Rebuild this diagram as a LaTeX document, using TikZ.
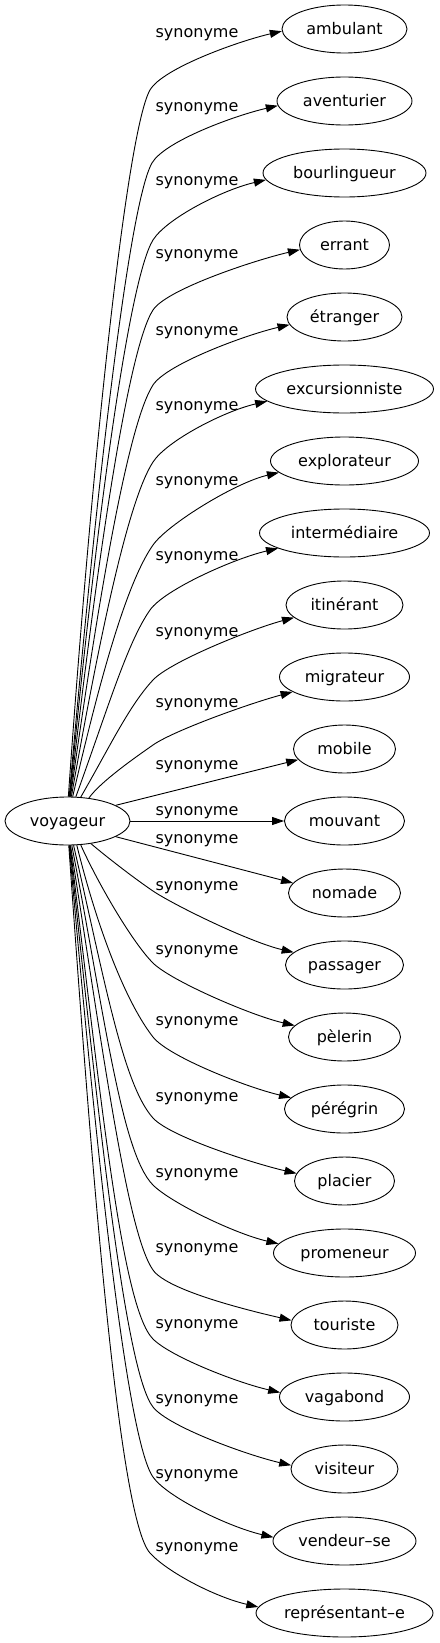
\documentclass[tikz,border=0pt]{standalone}
\usepackage{fontspec}
\setmainfont{DejaVu Sans}
\usetikzlibrary{arrows.meta,calc,shapes.geometric}
% #1 start anchor, #2 start direction, #3 start pull, #4 knee point, #5 direction at knee,
% #6 pull into knee, #7 target node, #8 target anchor, #9 back direction at target
\newcommand\synedge[9]{%
  \draw[edge] (voyageur.#1) .. controls ($(voyageur.#1)+(#2:#3)$) and ($#4+(#5+180:#6)$) .. #4
    .. controls ($#4+(#5:25)$) and ($(#7.#8)+(#9:45)$) .. (#7.#8);}
\begin{document}
\begin{tikzpicture}[x=1pt,y=-1pt,
  term/.style={draw, ellipse, inner sep=0pt, minimum height=48pt, minimum width=#1,
    text height=11.5pt, text depth=0.5pt, font=\fontsize{16pt}{19pt}\selectfont, line width=0.9pt},
  lbl/.style={inner sep=0pt, font=\fontsize{16pt}{19pt}\selectfont},
  edge/.style={line width=0.9pt, -{Triangle[length=12pt,width=8pt]}}
]
\useasboundingbox (0,0) rectangle (439,1643);
\node[term=125pt] (voyageur) at (67.5,821) {voyageur};
\node[term=125pt] (ambulant) at (344.5,29) {ambulant};
\node[term=135pt] (aventurier) at (344.5,101) {aventurier};
\node[term=163pt] (bourlingueur) at (344.5,173) {bourlingueur};
\node[term=90pt] (errant) at (344.5,245) {errant};
\node[term=115pt] (etranger) at (344.5,317) {étranger};
\node[term=178pt] (excursionniste) at (344.5,389) {excursionniste};
\node[term=148pt] (explorateur) at (344.5,461) {explorateur};
\node[term=170pt] (intermediaire) at (344.5,533) {intermédiaire};
\node[term=117pt] (itinerant) at (344.5,605) {itinérant};
\node[term=130pt] (migrateur) at (344.5,677) {migrateur};
\node[term=102pt] (mobile) at (344.5,749) {mobile};
\node[term=120pt] (mouvant) at (344.5,821) {mouvant};
\node[term=112pt] (nomade) at (344.5,893) {nomade};
\node[term=118pt] (passager) at (344.5,965) {passager};
\node[term=112pt] (pelerin) at (344.5,1037) {pèlerin};
\node[term=120pt] (peregrin) at (344.5,1109) {pérégrin};
\node[term=100pt] (placier) at (344.5,1181) {placier};
\node[term=142pt] (promeneur) at (344.5,1253) {promeneur};
\node[term=107pt] (touriste) at (344.5,1325) {touriste};
\node[term=130pt] (vagabond) at (344.5,1397) {vagabond};
\node[term=107pt] (visiteur) at (344.5,1469) {visiteur};
\node[term=143pt] (vendeur) at (344.5,1541) {vendeur–se};
\node[term=177pt] (representant) at (344.5,1613) {représentant–e};
% labels
\node[lbl] (l0) at (197,35) {synonyme};
\node[lbl] (l1) at (197,109) {synonyme};
\node[lbl] (l2) at (197,183) {synonyme};
\node[lbl] (l3) at (197,256) {synonyme};
\node[lbl] (l4) at (197,333) {synonyme};
\node[lbl] (l5) at (197,408) {synonyme};
\node[lbl] (l6) at (197,483) {synonyme};
\node[lbl] (l7) at (197,558) {synonyme};
\node[lbl] (l8) at (197,634) {synonyme};
\node[lbl] (l9) at (197,705) {synonyme};
\node[lbl] (l10) at (197,767) {synonyme};
\node[lbl] (l11) at (197,813) {synonyme};
\node[lbl] (l12) at (197,841) {synonyme};
\node[lbl] (l13) at (197,888) {synonyme};
\node[lbl] (l14) at (197,952) {synonyme};
\node[lbl] (l15) at (197,1023) {synonyme};
\node[lbl] (l16) at (197,1099) {synonyme};
\node[lbl] (l17) at (197,1175) {synonyme};
\node[lbl] (l18) at (197,1250) {synonyme};
\node[lbl] (l19) at (197,1326) {synonyme};
\node[lbl] (l20) at (197,1401) {synonyme};
\node[lbl] (l21) at (197,1476) {synonyme};
\node[lbl] (l22) at (197,1549) {synonyme};
% upper edges
\synedge{88}{-86}{353}{(150,90)}{-60}{45}{ambulant}{182}{167}
\synedge{86}{-85}{317}{(152,163)}{-60}{45}{aventurier}{184}{167}
\synedge{85}{-84.5}{278}{(153,240)}{-58}{45}{bourlingueur}{185}{167}
\synedge{84}{-83.5}{243}{(153,310)}{-57}{45}{errant}{186}{167}
\synedge{83}{-82}{206}{(153,385)}{-57}{45}{etranger}{188}{167}
\synedge{81}{-80}{167}{(153,462)}{-57}{45}{excursionniste}{189}{167}
\synedge{78}{-77}{126}{(153,545)}{-55}{45}{explorateur}{190}{167}
\synedge{71}{-70}{93}{(150,610)}{-55}{40}{intermediaire}{193}{167}
\synedge{61}{-60}{58}{(153,680)}{-47}{35}{itinerant}{194}{165}
\synedge{47}{-55}{20}{(153,745)}{-35}{20}{migrateur}{196}{165}
% central edges
\draw[edge] (voyageur.18) -- (mobile.193);
\draw[edge] (voyageur.east) -- (mouvant.west);
\draw[edge] (voyageur.342) -- (nomade.169);
% lower edges
\synedge{316}{40}{25}{(153,891)}{34}{20}{passager}{166}{193}
\synedge{299}{66}{40}{(153,963)}{45}{30}{pelerin}{167}{193}
\synedge{291}{76}{96}{(153,1037)}{52}{40}{peregrin}{168}{193}
\synedge{284}{77}{136}{(153,1118)}{48}{45}{placier}{171}{193}
\synedge{280}{79}{170}{(153,1185)}{45}{45}{promeneur}{172}{193}
\synedge{277}{81}{212}{(153,1270)}{55}{45}{touriste}{175}{193}
\synedge{276}{83}{247}{(153,1339)}{45}{45}{vagabond}{176}{193}
\synedge{275}{84}{281}{(153,1407)}{52}{45}{visiteur}{176}{193}
\synedge{274}{85}{316}{(153,1477)}{55}{45}{vendeur}{177}{193}
\synedge{273}{86}{354}{(150,1553)}{48}{45}{representant}{176}{193}
\end{tikzpicture}
\end{document}
